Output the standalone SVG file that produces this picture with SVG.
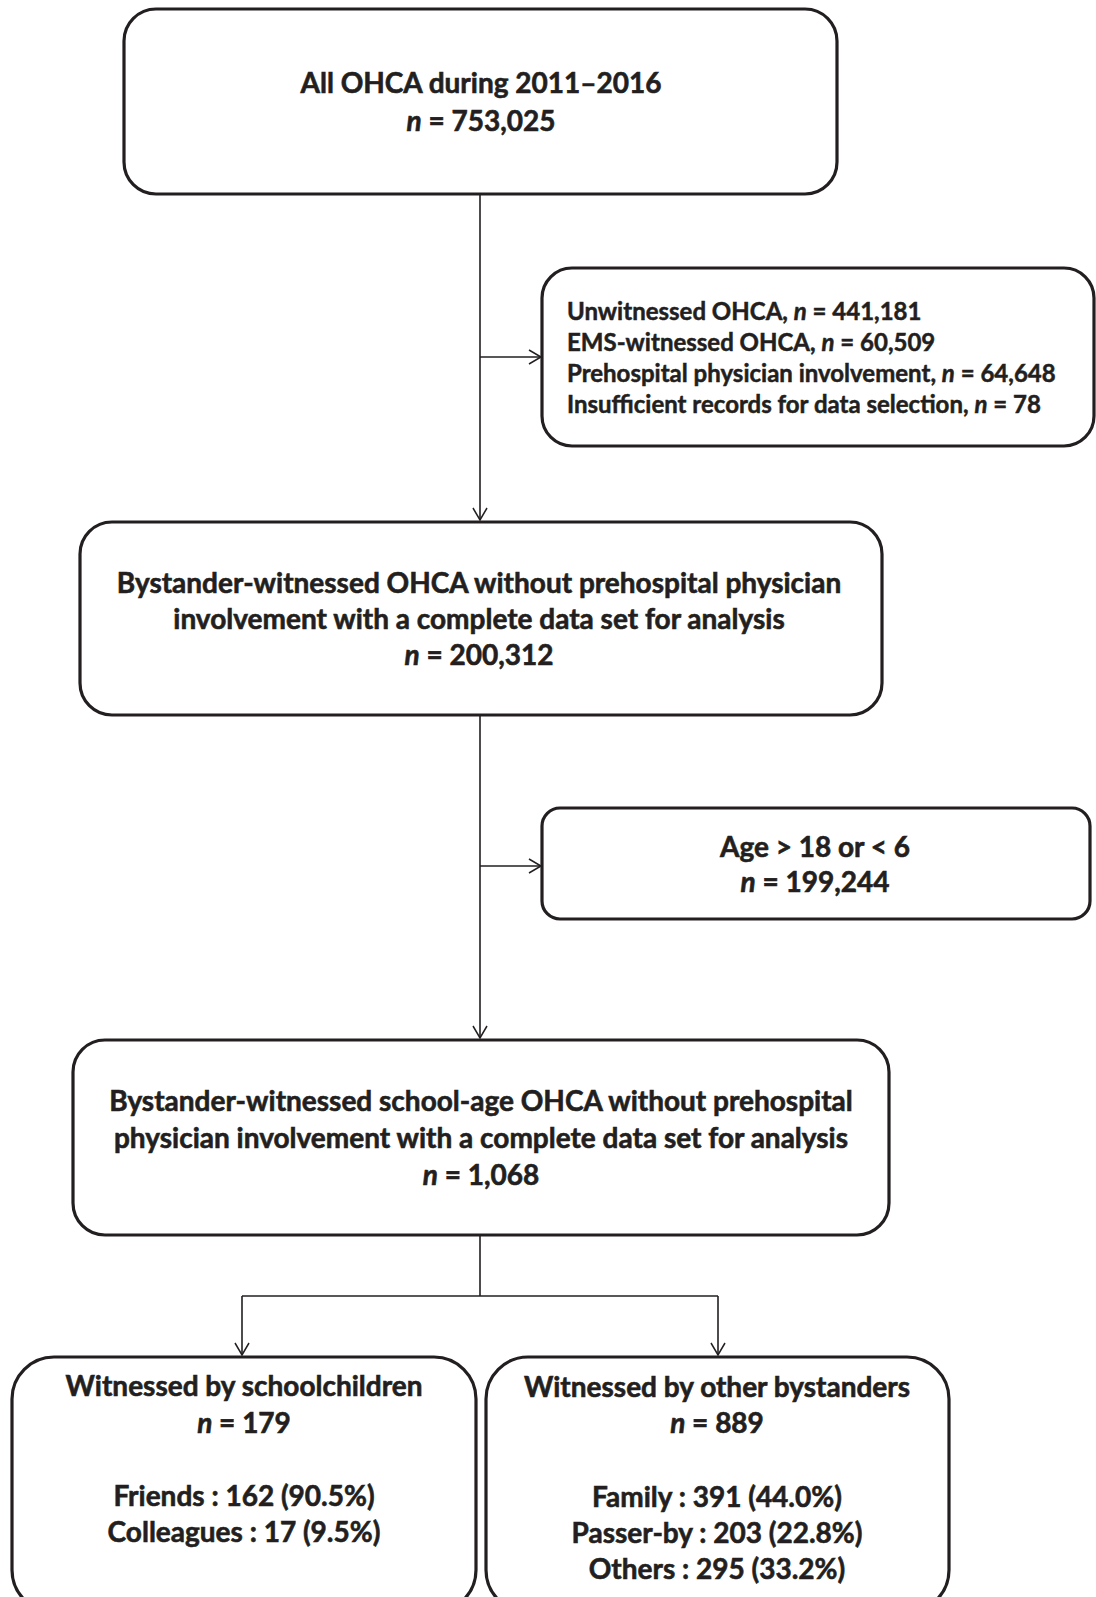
<svg xmlns="http://www.w3.org/2000/svg" width="1096" height="1597" viewBox="0 0 1096 1597">
<defs>
<marker id="arr" markerWidth="20" markerHeight="20" refX="14" refY="8" orient="auto" markerUnits="userSpaceOnUse">
<path d="M2,1 L14,8 L2,15" fill="none" stroke="#231f20" stroke-width="1.5"/>
</marker>
<style>
.box{fill:#fff;stroke:#231f20;stroke-width:3.2}
.t{font-family:Lato,"Liberation Sans",sans-serif;font-weight:bold;font-size:28px;fill:#231f20;stroke:#231f20;stroke-width:0.6}
.s{font-size:24px;stroke-width:0.5}
.c{text-anchor:middle}
.i{font-style:italic}
.ln{fill:none;stroke:#231f20;stroke-width:1.6}
</style>
</defs>
<g id="connectors">
<line class="ln" x1="480" y1="194" x2="480" y2="520" marker-end="url(#arr)"/>
<line class="ln" x1="480" y1="357" x2="541" y2="357" marker-end="url(#arr)"/>
<line class="ln" x1="480" y1="715" x2="480" y2="1038" marker-end="url(#arr)"/>
<line class="ln" x1="480" y1="866" x2="541" y2="866" marker-end="url(#arr)"/>
<line class="ln" x1="480" y1="1235" x2="480" y2="1296"/>
<polyline class="ln" points="242,1296 718,1296"/>
<line class="ln" x1="242" y1="1296" x2="242" y2="1355" marker-end="url(#arr)"/>
<line class="ln" x1="718" y1="1296" x2="718" y2="1355" marker-end="url(#arr)"/>
</g>
<g id="n1">
<rect class="box" x="124" y="9" width="713" height="185" rx="32"/>
<text class="t c" x="481" y="93">All OHCA during 2011–2016</text>
<text class="t c" x="481" y="131"><tspan class="i">n</tspan> = 753,025</text>
</g>
<g id="n2">
<rect class="box" x="542" y="268" width="552" height="178" rx="30"/>
<text class="t s" x="567" y="320">Unwitnessed OHCA, <tspan class="i">n</tspan> = 441,181</text>
<text class="t s" x="567" y="351">EMS-witnessed OHCA, <tspan class="i">n</tspan> = 60,509</text>
<text class="t s" x="567" y="382">Prehospital physician involvement, <tspan class="i">n</tspan> = 64,648</text>
<text class="t s" x="567" y="413">Insufficient records for data selection, <tspan class="i">n</tspan> = 78</text>
</g>
<g id="n3">
<rect class="box" x="80" y="522" width="802" height="193" rx="32"/>
<text class="t c" x="479" y="593">Bystander-witnessed OHCA without prehospital physician</text>
<text class="t c" x="479" y="629">involvement with a complete data set for analysis</text>
<text class="t c" x="479" y="665"><tspan class="i">n</tspan> = 200,312</text>
</g>
<g id="n4">
<rect class="box" x="542" y="808" width="548" height="111" rx="18"/>
<text class="t c" x="815" y="857">Age &gt; 18 or &lt; 6</text>
<text class="t c" x="815" y="892"><tspan class="i">n</tspan> = 199,244</text>
</g>
<g id="n5">
<rect class="box" x="73" y="1040" width="816" height="195" rx="32"/>
<text class="t c" x="481" y="1111">Bystander-witnessed school-age OHCA without prehospital</text>
<text class="t c" x="481" y="1148">physician involvement with a complete data set for analysis</text>
<text class="t c" x="481" y="1185"><tspan class="i">n</tspan> = 1,068</text>
</g>
<g id="n6">
<rect class="box" x="12" y="1357" width="464" height="255" rx="42"/>
<text class="t c" x="244" y="1396">Witnessed by schoolchildren</text>
<text class="t c" x="244" y="1433"><tspan class="i">n</tspan> = 179</text>
<text class="t c" x="244" y="1506">Friends : 162 (90.5%)</text>
<text class="t c" x="244" y="1542">Colleagues : 17 (9.5%)</text>
</g>
<g id="n7">
<rect class="box" x="486" y="1357" width="463" height="255" rx="42"/>
<text class="t c" x="717" y="1397">Witnessed by other bystanders</text>
<text class="t c" x="717" y="1433"><tspan class="i">n</tspan> = 889</text>
<text class="t c" x="717" y="1507">Family : 391 (44.0%)</text>
<text class="t c" x="717" y="1543">Passer-by : 203 (22.8%)</text>
<text class="t c" x="717" y="1579">Others : 295 (33.2%)</text>
</g>
</svg>
